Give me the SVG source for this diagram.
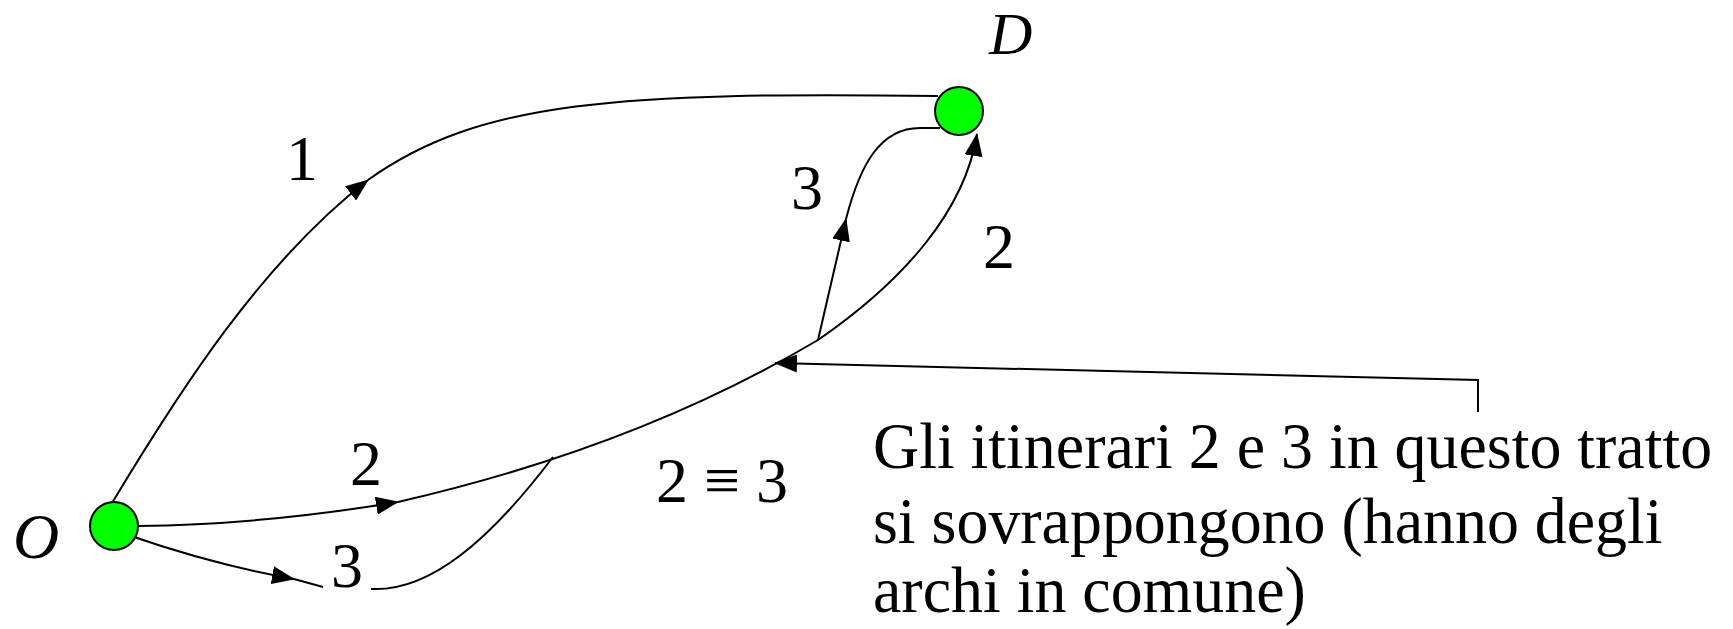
<svg xmlns="http://www.w3.org/2000/svg" width="1733" height="629" viewBox="0 0 1733 629">
  <style>
    .node { fill: #00ff00; stroke: #000; stroke-width: 2; }
    .edge { fill: none; stroke: #000; stroke-width: 2; }
    .lbl { font-family: "Liberation Serif", "Times New Roman", serif; font-size: 64px; fill: #000; }
    .it { font-style: italic; }
    .note { font-family: "Liberation Serif", "Times New Roman", serif; font-size: 65px; fill: #000; }
  </style>
  <defs>
    <marker id="arr" viewBox="0 0 23 18" refX="22" refY="9" markerWidth="23" markerHeight="18" markerUnits="userSpaceOnUse" orient="auto">
      <path d="M0,0 L23,9 L0,18 z" fill="#000"/>
    </marker>
  </defs>

  <rect width="1733" height="629" fill="#fff"/>

  <g id="connectors">
    <!-- itinerary 1 -->
    <path class="edge" d="M112 503 C180 390 262 262 368 180" marker-end="url(#arr)"/>
    <path class="edge" d="M368 180 C480 100 620 92 938 96"/>
    <!-- itinerary 2 -->
    <path class="edge" d="M138 526 C230 525 320 515 398 502" marker-end="url(#arr)"/>
    <path class="edge" d="M398 502 C560 465 700 410 818 340 C905 280 965 210 977 134" marker-end="url(#arr)"/>
    <!-- itinerary 3 -->
    <path class="edge" d="M131 536 Q215 565 294 579" marker-end="url(#arr)"/>
    <path class="edge" d="M294 579 L323 587"/>
    <path class="edge" d="M371 589 C430 592 490 540 553 457"/>
    <path class="edge" d="M818 340 L846 219" marker-end="url(#arr)"/>
    <path class="edge" d="M846 219 C860 165 880 128 920 128 L940 128"/>
    <!-- annotation pointer -->
    <path class="edge" d="M1478 412 L1478 380 L775 363" marker-end="url(#arr)"/>
  </g>

  <g id="node-O">
    <circle class="node" cx="114" cy="526" r="24"/>
    <text class="lbl it" x="13" y="558">O</text>
  </g>

  <g id="node-D">
    <circle class="node" cx="959" cy="111" r="24"/>
    <text class="lbl it" x="989" y="54" style="font-size:60px">D</text>
  </g>

  <g id="labels">
    <text class="lbl" x="302" y="180" text-anchor="middle">1</text>
    <text class="lbl" x="366" y="485" text-anchor="middle">2</text>
    <text class="lbl" x="347" y="587" text-anchor="middle">3</text>
    <text class="lbl" x="807" y="209" text-anchor="middle">3</text>
    <text class="lbl" x="999" y="268" text-anchor="middle">2</text>
    <text class="lbl" x="722" y="502" text-anchor="middle">2 ≡ 3</text>
  </g>

  <g id="note" transform="translate(873 0) scale(0.983 1)">
    <text class="note" x="0" y="468">Gli itinerari 2 e 3 in questo tratto</text>
    <text class="note" x="0" y="543">si sovrappongono (hanno degli</text>
    <text class="note" x="0" y="612">archi in comune)</text>
  </g>
</svg>
